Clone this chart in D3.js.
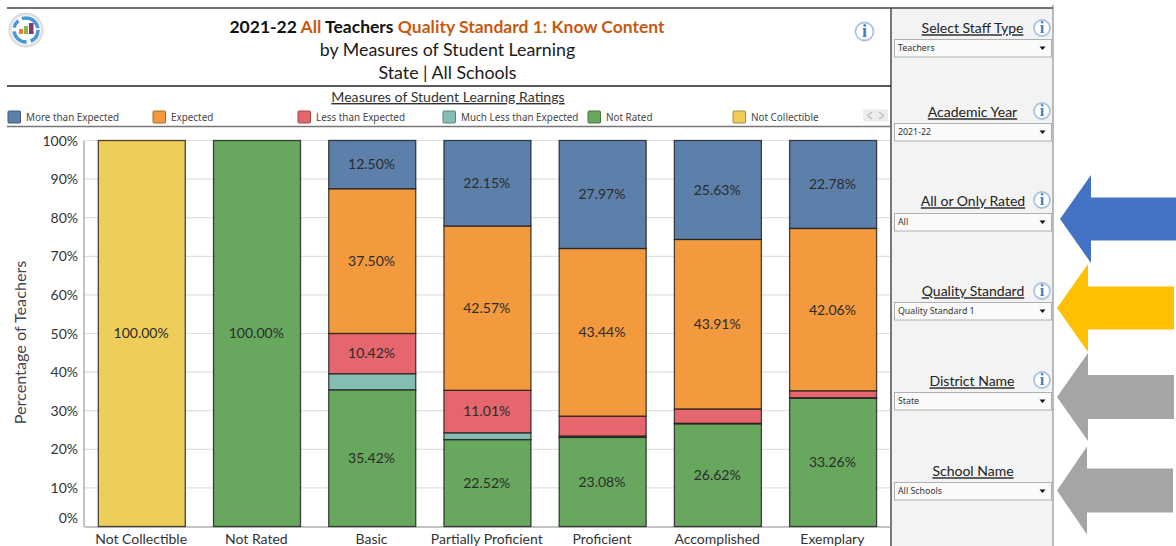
<!DOCTYPE html>
<html><head><meta charset="utf-8">
<script src="https://cdn.jsdelivr.net/npm/d3@7/dist/d3.min.js"></script>
<style>
html,body{margin:0;padding:0;background:#fff;overflow:hidden}
svg{display:block}
text{font-family:Lato,"Noto Sans",sans-serif}
.small{font-family:"Noto Sans",sans-serif}
</style></head><body><svg id="c" width="1176" height="546"></svg>
<script>
const categories = ["Not Collectible","Not Rated","Basic","Partially Proficient","Proficient","Accomplished","Exemplary"];
const seriesNames = ["Not Collectible","Not Rated","Much Less than Expected","Less than Expected","Expected","More than Expected"];
const legendNames = ["More than Expected","Expected","Less than Expected","Much Less than Expected","Not Rated","Not Collectible"];
const notCollectible = [100,0,0,0,0,0,0];
const notRated = [0,100,35.42,22.52,23.08,26.62,33.26];
const muchLess = [0,0,4.17,1.75,0.35,0.1,0.1];
const lessThan = [0,0,10.42,11.01,5.16,3.74,1.8];
const expected = [0,0,37.5,42.57,43.44,43.91,42.06];
const moreThan = [0,0,12.5,22.15,27.97,25.63,22.78];
const labelMin = 10;
const yTicks = [0,10,20,30,40,50,60,70,80,90,100];
const filterTitles = ["Select Staff Type","Academic Year","All or Only Rated","Quality Standard","District Name","School Name"];
const filterValues = ["Teachers","2021-22","All","Quality Standard 1","State","All Schools"];
const colors = {"More than Expected":"#5c80aa","Expected":"#f39a3f","Less than Expected":"#e5666c","Much Less than Expected":"#85bdb5","Not Rated":"#68a85e","Not Collectible":"#eecd5a"};
const borders = {"More than Expected":"#3f5874","Expected":"#a86a2b","Less than Expected":"#9e474a","Much Less than Expected":"#5c827d","Not Rated":"#47743f","Not Collectible":"#a48e3e"};

const svg = d3.select("#c");
const seriesValues = [notCollectible,notRated,muchLess,lessThan,expected,moreThan];
const rows = categories.map((c,i)=>{const o={cat:c};seriesNames.forEach((s,j)=>o[s]=seriesValues[j][i]);return o;});
const stacked = d3.stack().keys(seriesNames)(rows);
const x = d3.scaleBand().domain(categories).range([84.2,890.7]).paddingInner(0.245).paddingOuter(0.1225);
const y = d3.scaleLinear().domain([0,100]).range([526.5,140.5]);

// frame rules
const rule=(x1,y1,x2,y2,c,w)=>svg.append("line").attr("x1",x1).attr("y1",y1).attr("x2",x2).attr("y2",y2).attr("stroke",c).attr("stroke-width",w);

// side panel
svg.append("rect").attr("x",892).attr("y",8).attr("width",161).attr("height",538).attr("fill","#f3f3f3");
rule(1053,5,1053,546,"#a6a6a6",1.5);
rule(891,8,891,546,"#555",1.6);
rule(7,8,1053,8,"#444",1.4);
rule(7,86,891,86,"#222",1.4);
rule(7,126.5,891,126.5,"#777",1.4);

// title
const t1=svg.append("text").attr("x",447).attr("y",32.5).attr("text-anchor","middle").attr("font-size",17.5).attr("font-weight",700);
[["2021-22 ","#111"],["All ","#c55a11"],["Teachers ","#111"],["Quality Standard 1: Know Content","#c55a11"]].forEach(p=>t1.append("tspan").attr("fill",p[1]).text(p[0]));
svg.append("text").attr("x",447.5).attr("y",55.7).attr("text-anchor","middle").attr("font-size",17.8).attr("fill","#1a1a1a").text("by Measures of Student Learning");
svg.append("text").attr("x",447.5).attr("y",78.7).attr("text-anchor","middle").attr("font-size",17.8).attr("fill","#1a1a1a").text("State | All Schools");
svg.append("text").attr("x",448).attr("y",102).attr("text-anchor","middle").attr("font-size",14.1).attr("fill","#333").attr("text-decoration","underline").text("Measures of Student Learning Ratings");

// legend
const lg=svg.selectAll(".lg").data(legendNames).join("g").attr("transform",(d,i)=>`translate(${8+145*i},111)`);
lg.append("rect").attr("width",12.5).attr("height",12).attr("rx",1).attr("fill",d=>colors[d]).attr("stroke",d=>borders[d]);
lg.append("text").attr("class","small").attr("x",18).attr("y",10).attr("font-size",9.9).attr("fill","#444").text(d=>d);
// legend pager
const pg=svg.append("g").attr("transform","translate(863,109.5)");
pg.append("rect").attr("width",25).attr("height",12).attr("fill","#ececec");
pg.append("path").attr("d","M9 2.5L4.5 6L9 9.5M16 2.5L20.5 6L16 9.5").attr("fill","none").attr("stroke","#bbb").attr("stroke-width",1.2);

// grid and axes
svg.selectAll(".grid").data(yTicks.filter(d=>d>0)).join("line").attr("x1",83.5).attr("x2",890).attr("y1",d=>y(d)).attr("y2",d=>y(d)).attr("stroke","#e0e0e0").attr("stroke-width",1.2);
const yAxis=svg.append("g").attr("transform","translate(83.5,0)").call(d3.axisLeft(y).tickValues(yTicks).tickSize(0).tickPadding(5.5).tickFormat(d=>d+"%"));
yAxis.select(".domain").attr("stroke","#888").attr("stroke-width",1);
yAxis.selectAll("text").attr("font-size",14).attr("fill","#333").attr("font-family","Lato").attr("dy",null).attr("dominant-baseline","central").attr("y",-0.9);
yAxis.selectAll(".tick").filter(d=>d===0).select("text").attr("y",-9.9);
const xAxis=svg.append("g").attr("transform","translate(0,526.5)").call(d3.axisBottom(x).tickSize(0).tickPadding(7.3));
xAxis.select(".domain").attr("stroke","#888").attr("stroke-width",1);
xAxis.selectAll("text").attr("font-size",14).attr("fill","#333").attr("font-family","Lato").attr("dx",-0.7);
svg.append("text").attr("transform","translate(26,342.5) rotate(-90)").attr("text-anchor","middle").attr("font-size",16.2).attr("fill","#444").text("Percentage of Teachers");

// bars
const layer=svg.selectAll(".layer").data(stacked).join("g").attr("fill",d=>colors[d.key]);
layer.selectAll("rect").data(d=>d.filter(p=>p[1]-p[0]>0)).join("rect")
 .attr("x",d=>x(d.data.cat)).attr("width",x.bandwidth())
 .attr("y",d=>y(d[1])).attr("height",d=>y(d[0])-y(d[1]))
 .attr("stroke","#1c1c1c").attr("stroke-opacity",.8).attr("stroke-width",1.3);
layer.selectAll("text").data(d=>d.filter(p=>p[1]-p[0]>=labelMin)).join("text")
 .attr("x",d=>x(d.data.cat)+x.bandwidth()/2-0.7).attr("y",d=>y((d[0]+d[1])/2)).attr("dy","0.35em")
 .attr("text-anchor","middle").attr("font-size",14).attr("fill","#2b2b2b")
 .text(d=>(d[1]-d[0]).toFixed(2)+"%");

// info icons
function info(cx,cy,r){
 const g=svg.append("g").attr("transform",`translate(${cx},${cy})`);
 g.append("circle").attr("r",r).attr("fill","#fff").attr("stroke","#a9c4e4").attr("stroke-width",1.8);
 g.append("text").attr("text-anchor","middle").attr("y",r*.62).attr("font-size",r*2).attr("font-weight",700).style("font-family","Liberation Serif").attr("fill","#3f7fc0").text("i");
}
info(864.5,31.5,9);

// logo
const logo=svg.append("g").attr("transform","translate(26,30)");
logo.append("circle").attr("r",17).attr("fill","#e4e4e4").attr("stroke","#d4d4d4");
logo.append("circle").attr("r",14.5).attr("fill","#fff");
logo.append("circle").attr("r",12).attr("fill","none").attr("stroke","#4a97d8").attr("stroke-width",3.5).attr("stroke-dasharray","14 4 18 4 8 4 21 2");
logo.append("rect").attr("x",-7).attr("y",-1).attr("width",4).attr("height",5).attr("fill","#ee7b2a");
logo.append("rect").attr("x",-2).attr("y",-4).attr("width",4).attr("height",8).attr("fill","#8cb84a");
logo.append("rect").attr("x",3).attr("y",-7).attr("width",4.5).attr("height",11).attr("fill","#7a3d6e");

// filter panel
const titleY=[33.3,117.3,206.3,296.3,386.3,476.3], boxY=[39,123,213,302,392,482], iconY=[28,111,200,291,380], titleX=[972.5,972.5,973,973,972,973];
filterTitles.forEach((t,i)=>{
 svg.append("text").attr("x",titleX[i]).attr("y",titleY[i]).attr("text-anchor","middle").attr("font-size",14).attr("fill","#222").attr("text-decoration","underline").text(t);
 svg.append("rect").attr("x",894.5).attr("y",boxY[i]+.5).attr("width",157).attr("height",17.5).attr("fill","#fafafa").attr("stroke","#b0b0b0");
 svg.append("text").attr("class","small").attr("x",898).attr("y",boxY[i]+12).attr("font-size",8.8).attr("fill","#333").text(filterValues[i]);
 svg.append("path").attr("d",`M1039.5 ${boxY[i]+7.5}h6l-3 3.5z`).attr("fill","#111");
});
iconY.forEach(v=>info(1042,v,8));

// arrows
const arrows=[[1060,1091,219,44,21.5,1176,"#4472c4"],[1057,1088,308,44,21.5,1174,"#ffc000"],[1057,1088,397,44,22,1174,"#a5a5a5"],[1057,1087,490.5,44,22,1173,"#a5a5a5"]];
arrows.forEach(a=>{const[t,b,c,h,s,r,f]=a;
 svg.append("path").attr("d",`M${t} ${c}L${b} ${c-h}V${c-s}H${r}V${c+s}H${b}V${c+h}Z`).attr("fill",f);
});
</script></body></html>
